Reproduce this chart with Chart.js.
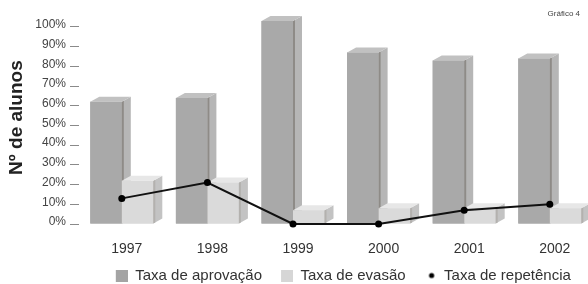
<!DOCTYPE html>
<html>
<head>
<meta charset="utf-8">
<script src="https://cdn.jsdelivr.net/npm/chart.js@4.4.0/dist/chart.umd.min.js"></script>
<style>
  html, body { margin: 0; padding: 0; background: #fff; overflow: hidden; }
  #wrap { position: relative; width: 600px; height: 293px; }
</style>
</head>
<body>
<div id="wrap"><canvas id="grafico"></canvas></div>
<script>
// dados
const anos = ['1997', '1998', '1999', '2000', '2001', '2002'];
const taxaAprovacao = [62, 64, 103, 87, 83, 84];
const taxaEvasao = [22, 21, 7, 8, 8, 8];
const taxaRepetencia = [13, 21, 0, 0, 7, 10];
const ticksPercent = [0, 10, 20, 30, 40, 50, 60, 70, 80, 90, 100];

Chart.defaults.font.family = "'Liberation Sans', Arial, sans-serif";

// icones da legenda (quadrado cinza ou ponto preto)
function iconeLegenda(tipo, cor) {
    const c = document.createElement('canvas');
    c.width = 27;
    c.height = 12;
    const g = c.getContext('2d');
    g.fillStyle = cor;
    if (tipo === 'box') {
        g.fillRect(15, 0, 12, 12);
    } else {
        g.beginPath();
        g.arc(22, 6, 2.6, 0, Math.PI * 2);
        g.fill();
    }
    return c;
}

function poligono(ctx, cor, pts) {
    ctx.fillStyle = cor;
    ctx.beginPath();
    ctx.moveTo(pts[0][0], pts[0][1]);
    for (let i = 1; i < pts.length; i++) ctx.lineTo(pts[i][0], pts[i][1]);
    ctx.closePath();
    ctx.fill();
}

// efeito 3D: antes da linha, redesenha as barras na ordem certa
// (frente, lateral e topo), aprovação atrás e evasão na frente
const barras3d = {
    id: 'barras3d',
    beforeDatasetDraw(chart, args) {
        if (chart.data.datasets[args.index].type !== 'line') return;
        const ctx = chart.ctx;
        const dx = 9, dy = 5;
        ctx.save();
        chart.data.datasets.forEach((ds, i) => {
            if (!ds.faces) return;
            chart.getDatasetMeta(i).data.forEach(bar => {
                const { x, y, base, width } = bar.getProps(['x', 'y', 'base', 'width'], true);
                const l = x - width / 2;
                const r = x + width / 2;
                poligono(ctx, ds.backgroundColor, [[l, y], [r, y], [r, base], [l, base]]);
                poligono(ctx, ds.faces.side, [[r, y], [r + dx, y - dy], [r + dx, base - dy], [r, base]]);
                poligono(ctx, ds.faces.edge, [[r, y], [r + 2, y - 1], [r + 2, base - 1], [r, base]]);
                poligono(ctx, ds.faces.top, [[l, y], [l + dx, y - dy], [r + dx, y - dy], [r, y]]);
            });
        });
        ctx.restore();
    }
};

const rotuloGrafico = {
    id: 'rotuloGrafico',
    afterDraw(chart) {
        const ctx = chart.ctx;
        ctx.save();
        ctx.font = "8px 'Liberation Sans', Arial, sans-serif";
        ctx.fillStyle = '#444';
        ctx.textAlign = 'right';
        ctx.textBaseline = 'middle';
        ctx.fillText('Gráfico 4', 580, 14);
        ctx.restore();
    }
};

const icones = [
    iconeLegenda('box', '#a4a4a4'),
    iconeLegenda('box', '#d6d6d6'),
    iconeLegenda('dot', '#000')
];

new Chart(document.getElementById('grafico'), {
    type: 'bar',
    data: {
        labels: anos,
        datasets: [
            {
                label: 'Taxa de aprovação',
                data: taxaAprovacao,
                backgroundColor: '#a9a9a9',
                faces: { side: '#b6b6b6', edge: '#8e8b87', top: '#c1c1c1' },
                borderWidth: 0,
                barPercentage: 1,
                categoryPercentage: 0.736
            },
            {
                label: 'Taxa de evasão',
                data: taxaEvasao,
                backgroundColor: '#dadada',
                faces: { side: '#c3c3c3', edge: '#b3b1ae', top: '#e7e7e7' },
                borderWidth: 0,
                barPercentage: 1,
                categoryPercentage: 0.736
            },
            {
                type: 'line',
                label: 'Taxa de repetência',
                data: taxaRepetencia,
                borderColor: '#111',
                borderWidth: 2,
                pointRadius: 3.5,
                pointBackgroundColor: '#000',
                pointBorderWidth: 0,
                tension: 0,
                clip: false,
                order: -1
            }
        ]
    },
    options: {
        responsive: true,
        maintainAspectRatio: false,
        animation: false,
        layout: { padding: { top: 10, right: 7.4, left: 0, bottom: 0 } },
        scales: {
            x: {
                grid: { display: false },
                border: { display: false },
                ticks: {
                    color: '#333',
                    font: { size: 14 },
                    padding: 9,
                    labelOffset: 5
                },
                afterFit(scale) { scale.height = 40; }
            },
            y: {
                min: 0,
                max: 108,
                border: { display: false },
                grid: {
                    drawOnChartArea: false,
                    drawTicks: true,
                    tickLength: 9,
                    color: '#8a8a8a'
                },
                afterBuildTicks(scale) {
                    scale.ticks = ticksPercent.map(v => ({ value: v }));
                },
                ticks: {
                    color: '#444',
                    font: { size: 12 },
                    padding: 4,
                    labelOffset: -2,
                    callback: v => v + '%'
                },
                title: {
                    display: true,
                    text: 'Nº de alunos',
                    color: '#222',
                    font: { size: 19, weight: 'bold' },
                    padding: { top: 5, bottom: 0 }
                },
                afterFit(scale) { scale.width = 79; }
            }
        },
        plugins: {
            tooltip: { enabled: false },
            legend: {
                position: 'bottom',
                fullSize: false,
                labels: {
                    usePointStyle: true,
                    pointStyleWidth: 27,
                    padding: 4,
                    color: '#333',
                    font: { size: 15 },
                    generateLabels(chart) {
                        return chart.data.datasets.map((ds, i) => ({
                            text: ds.label,
                            pointStyle: icones[i],
                            fillStyle: '#000',
                            strokeStyle: 'transparent',
                            lineWidth: 0,
                            hidden: false,
                            datasetIndex: i,
                            fontColor: '#333'
                        }));
                    }
                }
            }
        }
    },
    plugins: [barras3d, rotuloGrafico]
});
</script>
</body>
</html>
